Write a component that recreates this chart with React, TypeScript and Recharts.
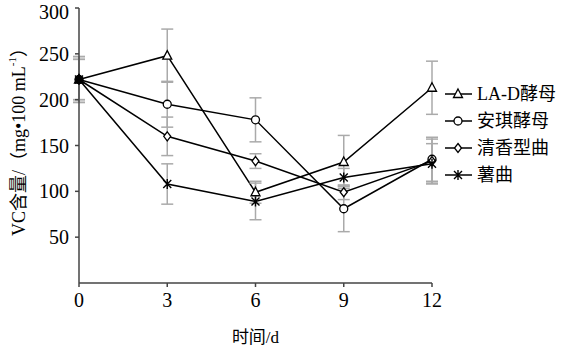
import React from 'react'
import {
  LineChart,
  Line,
  XAxis,
  YAxis,
  ErrorBar,
  Label,
} from 'recharts'

const days = [0, 3, 6, 9, 12]
const laD = [222, 248, 99, 132, 213]
const laDErr = [25, 29, 12, 29, 29]
const anqi = [222, 195, 178, 81, 135]
const anqiErr = [22, 25, 24, 25, 24]
const qingxiang = [222, 160, 133, 99, 133]
const qingxiangErr = [25, 21, 8, 8, 24]
const shuqu = [222, 108, 89, 115, 130]
const shuquErr = [22, 22, 20, 10, 22]
const yTicks = [50, 100, 150, 200, 250, 300]

const data = days.map((d, i) => ({
  day: d,
  laD: laD[i],
  laDErr: laDErr[i],
  anqi: anqi[i],
  anqiErr: anqiErr[i],
  qingxiang: qingxiang[i],
  qingxiangErr: qingxiangErr[i],
  shuqu: shuqu[i],
  shuquErr: shuquErr[i],
}))

const serif = 'Liberation Serif, Noto Sans CJK SC'

type Shape = 'triangle' | 'circle' | 'diamond' | 'star'

const Marker = ({ shape, cx, cy, fill }: { shape: Shape; cx: number; cy: number; fill: string }) => {
  if (shape === 'triangle')
    return <path d={`M${cx},${cy - 5} L${cx + 4.5},${cy + 3.5} L${cx - 4.5},${cy + 3.5} Z`} fill={fill} stroke="#000" strokeWidth={1.3} />
  if (shape === 'circle') return <circle cx={cx} cy={cy} r={4} fill={fill} stroke="#000" strokeWidth={1.3} />
  if (shape === 'diamond')
    return <path d={`M${cx},${cy - 4.5} L${cx + 3.5},${cy} L${cx},${cy + 4.5} L${cx - 3.5},${cy} Z`} fill={fill} stroke="#000" strokeWidth={1.3} />
  return (
    <path
      d={`M${cx - 4},${cy - 4} L${cx + 4},${cy + 4} M${cx + 4},${cy - 4} L${cx - 4},${cy + 4} M${cx},${cy - 5} L${cx},${cy + 5}`}
      stroke="#000"
      strokeWidth={1.4}
    />
  )
}

const makeDot = (shape: Shape) => (props: any) => {
  const { cx, cy, index } = props
  return <Marker key={`${shape}-${index}`} shape={shape} cx={cx} cy={cy} fill={index === 0 ? '#000' : '#fff'} />
}

const series: { key: string; err: string; name: string; shape: Shape }[] = [
  { key: 'laD', err: 'laDErr', name: 'LA-D酵母', shape: 'triangle' },
  { key: 'anqi', err: 'anqiErr', name: '安琪酵母', shape: 'circle' },
  { key: 'qingxiang', err: 'qingxiangErr', name: '清香型曲', shape: 'diamond' },
  { key: 'shuqu', err: 'shuquErr', name: '薯曲', shape: 'star' },
]

const YLabel = (props: any) => {
  const vb = props.viewBox || { y: 8, height: 275 }
  const cx = 19
  const cy = vb.y + vb.height / 2 - 8
  return (
    <text
      x={cx}
      y={cy}
      transform={`rotate(-90 ${cx} ${cy})`}
      textAnchor="middle"
      dominantBaseline="central"
      style={{ fontFamily: serif }}
      fontSize={18}
      fill="#000"
    >
      VC含量/（mg•100 mL
      <tspan fontSize={11} dy={-7}>-1</tspan>
      <tspan dy={7}>）</tspan>
    </text>
  )
}

const tickStyle = { fill: '#000', fontSize: 20, style: { fontFamily: serif } }

export default function App() {
  return (
    <div style={{ position: 'absolute', left: 0, top: 0, background: '#fff', fontFamily: serif }}>
      <LineChart width={569} height={351} data={data} margin={{ top: 8, right: 137, left: 0, bottom: 0 }} style={{ fontFamily: serif }}>
        <XAxis
          dataKey="day"
          type="number"
          domain={[0, 12]}
          ticks={days}
          height={68}
          tickSize={4}
          tickMargin={6}
          stroke="#444"
          strokeWidth={1.5}
          tick={tickStyle}
        >
          <Label value="时间/d" position="insideBottom" offset={8} fill="#000" fontSize={17} style={{ fontFamily: serif }} />
        </XAxis>
        <YAxis
          type="number"
          domain={[0, 300]}
          ticks={yTicks}
          width={79}
          tickSize={4}
          tickMargin={6}
          stroke="#444"
          strokeWidth={1.5}
          tick={tickStyle}
        >
          <Label content={YLabel} />
        </YAxis>
        {series.map((s) => (
          <Line
            key={s.key}
            dataKey={s.key}
            name={s.name}
            type="linear"
            stroke="#000"
            strokeWidth={1.5}
            dot={makeDot(s.shape)}
            activeDot={false}
            isAnimationActive={false}
          >
            <ErrorBar dataKey={s.err} direction="y" width={6} stroke="#aaa" strokeWidth={1.5} />
          </Line>
        ))}
        <g>
          {series.map((s, i) => {
            const y = 94 + i * 27
            return (
              <g key={s.name}>
                <line x1={445} x2={472} y1={y} y2={y} stroke="#000" strokeWidth={1.5} />
                <Marker shape={s.shape} cx={458} cy={y} fill="#fff" />
                <text x={477} y={y} dominantBaseline="central" style={{ fontFamily: serif }} fontSize={18} fill="#000">
                  {s.name}
                </text>
              </g>
            )
          })}
        </g>
      </LineChart>
    </div>
  )
}
